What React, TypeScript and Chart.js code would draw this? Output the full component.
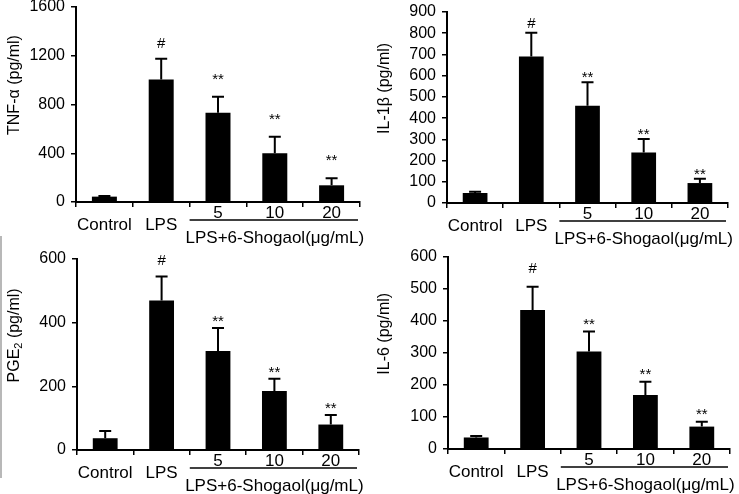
import React, { useEffect, useRef } from "react";
import { Chart, registerables } from "chart.js";
Chart.register(...registerables);

const FONT = "'Liberation Sans', Arial, Helvetica, sans-serif";

// ---- data ----
const categories: string[][] = [["", "Control"], ["", "LPS"], ["5"], ["10"], ["20"]];
const groupLabel = "LPS+6-Shogaol(μg/mL)";
const significance = ["", "#", "**", "**", "**"];

const tnfMean = [44, 1005, 732, 399, 137];
const tnfSD = [6, 170, 131, 137, 57];
const il1bMean = [47, 690, 458, 238, 94];
const il1bSD = [6, 112, 111, 63, 20];
const pge2Mean = [37, 470, 311, 185, 80];
const pge2SD = [23, 75, 72, 39, 30];
const il6Mean = [36, 434, 305, 169, 70];
const il6SD = [5, 73, 62, 41, 15];

const tnfAxis = { max: 1600, step: 400 };
const il1bAxis = { max: 900, step: 100 };
const pge2Axis = { max: 600, step: 200 };
const il6Axis = { max: 600, step: 100 };

type Part = { t: string; sub?: boolean };

type PanelDef = {
  mean: number[];
  sd: number[];
  axis: { max: number; step: number };
  title: Part[];
  pos: { x: number; y: number; w: number; h: number };
  frame: { left: number; right: number; top: number; bottom: number };
  gaps: [number, number];
};

const panels: PanelDef[] = [
  {
    mean: tnfMean, sd: tnfSD, axis: tnfAxis,
    title: [{ t: "TNF-α (pg/ml)" }],
    pos: { x: 0, y: 0, w: 370, h: 247 },
    frame: { left: 76, right: 360, top: 7, bottom: 202 },
    gaps: [11, 19],
  },
  {
    mean: il1bMean, sd: il1bSD, axis: il1bAxis,
    title: [{ t: "IL-1β (pg/ml)" }],
    pos: { x: 370, y: 0, w: 369, h: 247 },
    frame: { left: 77, right: 358, top: 12, bottom: 203 },
    gaps: [5, 6],
  },
  {
    mean: pge2Mean, sd: pge2SD, axis: pge2Axis,
    title: [{ t: "PGE" }, { t: "2", sub: true }, { t: " (pg/ml)" }],
    pos: { x: 0, y: 247, w: 370, h: 247 },
    frame: { left: 77, right: 359, top: 12, bottom: 203 },
    gaps: [12, 8],
  },
  {
    mean: il6Mean, sd: il6SD, axis: il6Axis,
    title: [{ t: "IL-6 (pg/ml)" }],
    pos: { x: 370, y: 247, w: 369, h: 247 },
    frame: { left: 78, right: 360, top: 10, bottom: 202 },
    gaps: [14, 9],
  },
];

function Panel({ p }: { p: PanelDef }) {
  const ref = useRef<HTMLCanvasElement>(null);
  useEffect(() => {
    const canvas = ref.current!;
    const f = p.frame;
    const W = p.pos.w;
    const H = p.pos.h;

    const overlay = {
      id: "overlay",
      afterDatasetsDraw(chart: any) {
        const ctx = chart.ctx;
        const meta = chart.getDatasetMeta(0);
        const ys = chart.scales.y;
        ctx.save();
        ctx.strokeStyle = "#000";
        ctx.fillStyle = "#000";
        ctx.lineWidth = 2;
        meta.data.forEach((bar: any, i: number) => {
          const x = bar.x;
          const yTop = ys.getPixelForValue(p.mean[i] + p.sd[i]);
          ctx.beginPath();
          ctx.moveTo(x, bar.y);
          ctx.lineTo(x, yTop);
          ctx.moveTo(x - 6, yTop);
          ctx.lineTo(x + 6, yTop);
          ctx.stroke();
          const mark = significance[i];
          if (mark) {
            ctx.textAlign = "center";
            ctx.textBaseline = "alphabetic";
            if (mark === "#") {
              ctx.font = `15px ${FONT}`;
              ctx.fillText(mark, x, yTop - p.gaps[0]);
            } else {
              ctx.font = `15px ${FONT}`;
              ctx.fillText(mark, x, yTop - p.gaps[1] + 6);
            }
          }
        });
        ctx.restore();
      },
      afterDraw(chart: any) {
        const ctx = chart.ctx;
        const area = chart.chartArea;
        const xs = chart.scales.x;
        ctx.save();
        // group bracket line and label
        const x0 = (xs.getPixelForValue(1) + xs.getPixelForValue(2)) / 2;
        const x1 = area.right - 2;
        const ly = area.bottom + 18;
        ctx.strokeStyle = "#000";
        ctx.lineWidth = 1.5;
        ctx.beginPath();
        ctx.moveTo(x0, ly);
        ctx.lineTo(x1, ly);
        ctx.stroke();
        ctx.fillStyle = "#000";
        ctx.font = `17px ${FONT}`;
        ctx.textAlign = "center";
        ctx.textBaseline = "middle";
        ctx.fillText(groupLabel, xs.getPixelForValue(3), area.bottom + 36);

        // y title (rotated), with optional subscript
        const cy = area.top + 0.4 * (area.bottom - area.top);
        ctx.translate(15, cy);
        ctx.rotate(-Math.PI / 2);
        const fontFor = (pt: Part) => (pt.sub ? `11px ${FONT}` : `16px ${FONT}`);
        let total = 0;
        p.title.forEach((pt) => {
          ctx.font = fontFor(pt);
          total += ctx.measureText(pt.t).width;
        });
        let cx = -total / 2;
        ctx.textAlign = "left";
        p.title.forEach((pt) => {
          ctx.font = fontFor(pt);
          ctx.fillText(pt.t, cx, pt.sub ? 4 : 0);
          cx += ctx.measureText(pt.t).width;
        });
        ctx.restore();
      },
    };

    const chart = new Chart(canvas, {
      type: "bar",
      data: {
        labels: categories,
        datasets: [
          {
            data: p.mean,
            backgroundColor: "#000",
            borderWidth: 0,
            barPercentage: 0.44,
            categoryPercentage: 1,
          },
        ],
      },
      options: {
        responsive: false,
        animation: false,
        devicePixelRatio: 1,
        layout: { padding: { left: 0, top: f.top, right: W - f.right, bottom: 0 } },
        plugins: { legend: { display: false }, tooltip: { enabled: false } },
        scales: {
          x: {
            offset: true,
            grid: {
              offset: true,
              drawOnChartArea: false,
              drawTicks: true,
              tickLength: 5,
              color: "#000",
              lineWidth: 1.5,
            },
            border: { display: true, color: "#000", width: 2 },
            ticks: {
              color: "#000",
              padding: 0,
              maxRotation: 0,
              autoSkip: false,
              font: { family: FONT, size: 17, lineHeight: "12px" },
            },
            afterFit: (s: any) => {
              s.height = H - f.bottom;
              s.paddingLeft = 0;
              s.paddingRight = 0;
            },
          },
          y: {
            min: 0,
            max: p.axis.max,
            grid: {
              drawOnChartArea: false,
              drawTicks: true,
              tickLength: 5,
              color: "#000",
              lineWidth: 1.5,
            },
            border: { display: true, color: "#000", width: 2 },
            ticks: {
              stepSize: p.axis.step,
              autoSkip: false,
              color: "#000",
              padding: 6,
              font: { family: FONT, size: 16 },
              callback: (v: any) => String(v),
            },
            afterFit: (s: any) => {
              s.width = f.left;
              s.paddingTop = 0;
              s.paddingBottom = 0;
            },
          },
        },
      },
      plugins: [overlay],
    } as any);
    return () => chart.destroy();
  }, [p]);

  return (
    <canvas
      ref={ref}
      width={p.pos.w}
      height={p.pos.h}
      style={{
        position: "absolute",
        left: p.pos.x,
        top: p.pos.y,
        width: p.pos.w,
        height: p.pos.h,
      }}
    />
  );
}

export default function App() {
  return (
    <div
      style={{
        position: "absolute",
        left: 0,
        top: 0,
        width: 739,
        height: 494,
        background: "#fff",
        overflow: "hidden",
      }}
    >
      {panels.map((p, i) => (
        <Panel key={i} p={p} />
      ))}
      <div
        style={{
          position: "absolute",
          left: 0,
          top: 236,
          width: 2,
          height: 242,
          background: "#b8b8b8",
        }}
      />
    </div>
  );
}
